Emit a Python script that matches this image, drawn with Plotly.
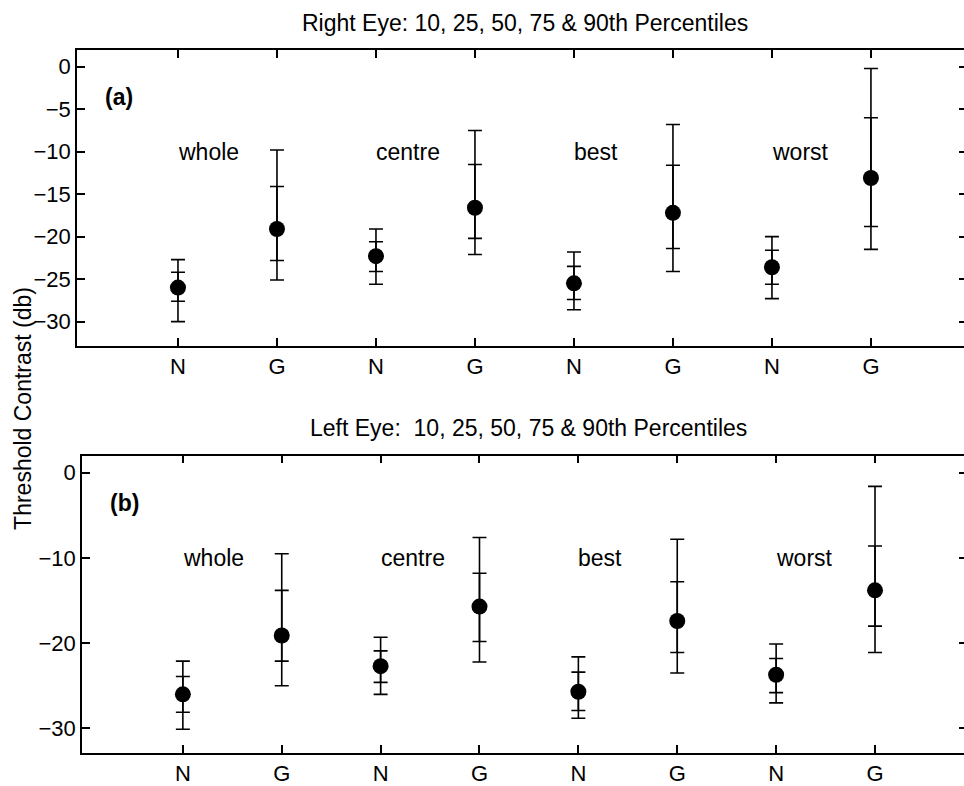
import plotly.graph_objects as go

# ---- data ----
groups = ["N", "G", "N", "G", "N", "G", "N", "G"]
regions = ["whole", "centre", "best", "worst"]
positions = [1, 2, 3, 4, 5, 6, 7, 8]

right_p10 = [-30.0, -25.1, -25.6, -22.1, -28.6, -24.1, -27.3, -21.5]
right_p25 = [-27.6, -22.8, -24.1, -20.2, -27.4, -21.4, -25.6, -18.8]
right_p50 = [-26.0, -19.1, -22.3, -16.6, -25.5, -17.2, -23.6, -13.1]
right_p75 = [-24.2, -14.1, -20.6, -11.5, -23.5, -11.6, -21.6, -6.0]
right_p90 = [-22.7, -9.8, -19.1, -7.5, -21.8, -6.8, -20.0, -0.2]

left_p10 = [-30.1, -25.0, -26.0, -22.2, -28.8, -23.5, -27.0, -21.1]
left_p25 = [-28.1, -22.1, -24.6, -19.8, -27.9, -21.1, -25.8, -18.0]
left_p50 = [-26.0, -19.1, -22.7, -15.7, -25.7, -17.4, -23.7, -13.8]
left_p75 = [-23.9, -13.8, -20.9, -11.8, -23.4, -12.8, -21.8, -8.6]
left_p90 = [-22.1, -9.5, -19.3, -7.6, -21.6, -7.8, -20.1, -1.6]

top_yticks = [0, -5, -10, -15, -20, -25, -30]
bottom_yticks = [0, -10, -20, -30]

FONT = "Liberation Sans, Arial, Helvetica, sans-serif"
W, H = 964, 786
YRANGE = [-32.9, 2.0]

fig = go.Figure()


def add_panel(p10, p25, p50, p75, p90, xa, ya, ya_right):
    outer_plus = [b - a for a, b in zip(p50, p90)]
    outer_minus = [a - b for a, b in zip(p50, p10)]
    inner_plus = [b - a for a, b in zip(p50, p75)]
    inner_minus = [a - b for a, b in zip(p50, p25)]
    for plus, minus in ((outer_plus, outer_minus), (inner_plus, inner_minus)):
        fig.add_trace(go.Scatter(
            x=positions, y=p50, mode="markers",
            marker=dict(size=1, opacity=0, color="black"),
            error_y=dict(type="data", symmetric=False, array=plus, arrayminus=minus,
                         color="black", thickness=1.6, width=7),
            xaxis=xa, yaxis=ya, showlegend=False, hoverinfo="skip"))
    fig.add_trace(go.Scatter(
        x=positions, y=p50, mode="markers",
        marker=dict(size=16, color="black"),
        xaxis=xa, yaxis=ya, showlegend=False))
    # empty trace so the right-hand tick axis is drawn
    fig.add_trace(go.Scatter(x=[None], y=[None], mode="markers", xaxis=xa, yaxis=ya_right,
                             showlegend=False, hoverinfo="skip"))


add_panel(right_p10, right_p25, right_p50, right_p75, right_p90, "x", "y", "y3")
add_panel(left_p10, left_p25, left_p50, left_p75, left_p90, "x2", "y2", "y4")


def px_x(a, b):
    return [a / W, b / W]


def px_y(top, bottom):
    return [1 - bottom / H, 1 - top / H]


tick_common = dict(ticks="inside", ticklen=8, tickwidth=1.6, tickcolor="black",
                   showgrid=False, zeroline=False,
                   tickfont=dict(family=FONT, size=22, color="black"))
xaxis_common = dict(showline=True, linecolor="black", linewidth=1.6, mirror="ticks", **tick_common)
yaxis_common = dict(showline=True, linecolor="black", linewidth=1.6, mirror=False, **tick_common)
right_common = dict(showline=False, showticklabels=False, side="right", ticks="inside",
                    ticklen=5, tickwidth=1.6, tickcolor="black", showgrid=False, zeroline=False,
                    autorange=False)

fig.update_layout(
    width=W, height=H,
    margin=dict(l=0, r=0, t=0, b=0),
    paper_bgcolor="white", plot_bgcolor="white",
    font=dict(family=FONT, color="black"),
    xaxis=dict(domain=px_x(77, 964), range=[-0.02, 8.94], tickvals=positions, ticktext=groups,
               anchor="y", **xaxis_common),
    yaxis=dict(domain=px_y(50, 348), range=YRANGE, tickvals=top_yticks,
               anchor="x", **yaxis_common),
    yaxis3=dict(overlaying="y", anchor="x", range=YRANGE, tickvals=top_yticks, **right_common),
    xaxis2=dict(domain=px_x(82, 964), range=[-0.02, 8.9], tickvals=positions, ticktext=groups,
                anchor="y2", **xaxis_common),
    yaxis2=dict(domain=px_y(458, 757), range=YRANGE, tickvals=bottom_yticks,
                anchor="x2", **yaxis_common),
    yaxis4=dict(overlaying="y2", anchor="x2", range=YRANGE, tickvals=bottom_yticks, **right_common),
)

ann = []
ann.append(dict(text="Right Eye: 10, 25, 50, 75 & 90th Percentiles", x=525 / W, y=1 - 23 / H,
                xref="paper", yref="paper", showarrow=False, xanchor="center", yanchor="middle",
                font=dict(family=FONT, size=23)))
ann.append(dict(text="Left Eye:  10, 25, 50, 75 & 90th Percentiles", x=528 / W, y=1 - 430 / H,
                xref="paper", yref="paper", showarrow=False, xanchor="center", yanchor="middle",
                font=dict(family=FONT, size=23)))
ann.append(dict(text="Threshold Contrast (db)", x=23 / W, y=1 - 411 / H, textangle=-90,
                xref="paper", yref="paper", showarrow=False, xanchor="center", yanchor="middle",
                font=dict(family=FONT, size=23)))
for xa, ya, lab in (("x", "y", "<b>(a)</b>"), ("x2", "y2", "<b>(b)</b>")):
    ann.append(dict(text=lab, x=0.24, y=-3.6, xref=xa, yref=ya, showarrow=False,
                    xanchor="left", yanchor="middle", font=dict(family=FONT, size=23)))
    for i, r in enumerate(regions):
        ann.append(dict(text=r, x=positions[2 * i] - 0.02, y=-10, xref=xa, yref=ya, showarrow=False,
                        xanchor="left", yanchor="middle", font=dict(family=FONT, size=23)))
fig.update_layout(annotations=ann)

fig.write_html(
    "out.html",
    config={"displayModeBar": False},
    post_script="document.body.style.margin='0';document.body.style.overflow='hidden';",
)
